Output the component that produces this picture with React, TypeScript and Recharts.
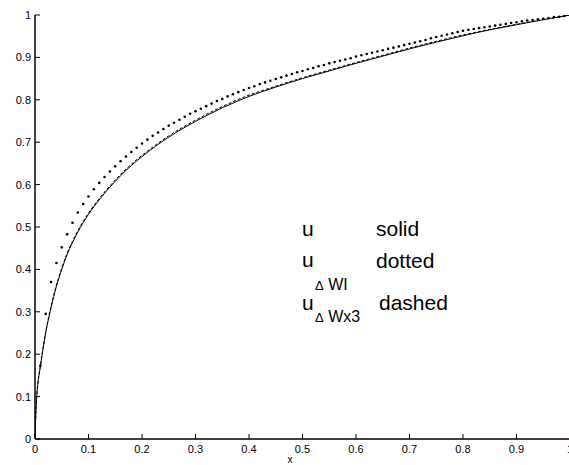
import React from "react";
import { LineChart, Line, XAxis, YAxis, Customized } from "recharts";

// x positions of the two continuous curves
const xCurve = [
  0, 0.001, 0.0025, 0.005, 0.01, 0.02, 0.03, 0.04, 0.05, 0.06, 0.07, 0.08, 0.09, 0.1, 0.12, 0.14,
  0.16, 0.18, 0.2, 0.25, 0.3, 0.35, 0.4, 0.45, 0.5, 0.55, 0.6, 0.65, 0.7, 0.75, 0.8, 0.85, 0.9,
  0.95, 1,
];
// u (solid)
const uSolid = [
  0, 0.04, 0.085, 0.125, 0.17, 0.25, 0.31, 0.36, 0.4, 0.435, 0.463, 0.488, 0.51, 0.53, 0.564,
  0.594, 0.621, 0.645, 0.666, 0.712, 0.749, 0.781, 0.808, 0.83, 0.85, 0.868, 0.886, 0.903, 0.92,
  0.936, 0.951, 0.965, 0.977, 0.989, 1,
];
// u_{Δ Wx3} (dashed), lies almost on top of u
const uDashed = [
  0, 0.041, 0.087, 0.128, 0.173, 0.253, 0.313, 0.363, 0.403, 0.438, 0.466, 0.491, 0.513, 0.533,
  0.567, 0.597, 0.624, 0.648, 0.669, 0.715, 0.752, 0.784, 0.811, 0.832, 0.852, 0.87, 0.888, 0.905,
  0.922, 0.938, 0.953, 0.966, 0.978, 0.989, 1,
];
// u_{Δ WI} (dotted), one marker every 0.01
const xDots = Array.from({ length: 101 }, (_, i) => i / 100);
const uDotted = [
  0, 0.173, 0.295, 0.37, 0.415, 0.452, 0.483, 0.51, 0.534, 0.554,
  0.572, 0.589, 0.604, 0.618, 0.631, 0.643, 0.655, 0.666, 0.677, 0.687,
  0.697, 0.706, 0.715, 0.723, 0.731, 0.739, 0.746, 0.753, 0.76, 0.767,
  0.773, 0.779, 0.785, 0.791, 0.797, 0.802, 0.808, 0.813, 0.818, 0.823,
  0.828, 0.832, 0.837, 0.841, 0.845, 0.849, 0.853, 0.857, 0.861, 0.865,
  0.868, 0.872, 0.875, 0.879, 0.882, 0.886, 0.889, 0.892, 0.895, 0.898,
  0.902, 0.905, 0.908, 0.911, 0.914, 0.917, 0.92, 0.923, 0.926, 0.929,
  0.932, 0.935, 0.938, 0.941, 0.945, 0.948, 0.951, 0.954, 0.957, 0.96,
  0.963, 0.965, 0.967, 0.969, 0.971, 0.973, 0.975, 0.977, 0.979, 0.981,
  0.983, 0.985, 0.987, 0.988, 0.99, 0.991, 0.993, 0.995, 0.996, 0.998,
  1,
];

const xTicks = [0, 0.1, 0.2, 0.3, 0.4, 0.5, 0.6, 0.7, 0.8, 0.9, 1];
const yTicks = [0, 0.1, 0.2, 0.3, 0.4, 0.5, 0.6, 0.7, 0.8, 0.9, 1];

const solidData = xCurve.map((x, i) => ({ x, y: uSolid[i] }));
const dashedData = xCurve.map((x, i) => ({ x, y: uDashed[i] }));
const dottedData = xDots.map((x, i) => ({ x, y: uDotted[i] }));

const FONT = "'Liberation Sans', Arial, Helvetica, sans-serif";
const TICK_LEN = 5;

const fmt = (v: number) => String(Math.round(v * 10) / 10);

function BottomTick(props: any) {
  const { x, y, payload } = props;
  return (
    <g>
      <line x1={x} y1={y} x2={x} y2={y - TICK_LEN} stroke="#000" strokeWidth={1} />
      <text x={x} y={y + 14} textAnchor="middle" fontSize={11} fontFamily={FONT} fill="#000">
        {fmt(payload.value)}
      </text>
    </g>
  );
}

function TopTick(props: any) {
  const { x, y } = props;
  return <line x1={x} y1={y} x2={x} y2={y + TICK_LEN} stroke="#000" strokeWidth={1} />;
}

function LeftTick(props: any) {
  const { x, y, payload } = props;
  return (
    <g>
      <line x1={x} y1={y} x2={x + TICK_LEN} y2={y} stroke="#000" strokeWidth={1} />
      <text x={x - 4} y={y + 4} textAnchor="end" fontSize={11} fontFamily={FONT} fill="#000">
        {fmt(payload.value)}
      </text>
    </g>
  );
}

function RightTick(props: any) {
  const { x, y } = props;
  return <line x1={x} y1={y} x2={x - TICK_LEN} y2={y} stroke="#000" strokeWidth={1} />;
}

function Annotations() {
  return (
    <g fontFamily={FONT} fill="#000">
      <text x={302} y={236} fontSize={21}>u</text>
      <text x={376} y={236} fontSize={21}>solid</text>

      <text x={302} y={267} fontSize={21}>u</text>
      <text x={315} y={290} fontSize={16}>
        <tspan fontSize={13}>Δ</tspan> WI
      </text>
      <text x={376} y={268} fontSize={21}>dotted</text>

      <text x={302} y={310} fontSize={21}>u</text>
      <text x={315} y={322} fontSize={16}>
        <tspan fontSize={13}>Δ</tspan> Wx3
      </text>
      <text x={379} y={310} fontSize={21}>dashed</text>

      <text x={290} y={463} fontSize={10} textAnchor="middle">x</text>
    </g>
  );
}

export default function App() {
  return (
    <div
      style={{
        position: "absolute",
        left: 0,
        top: 0,
        width: 569,
        height: 465,
        overflow: "hidden",
        background: "#fff",
      }}
    >
      <LineChart width={580} height={465} margin={{ top: 15, right: 10, bottom: 0, left: 0 }}>
        <XAxis
          xAxisId="b"
          dataKey="x"
          type="number"
          domain={[0, 1]}
          ticks={xTicks}
          interval={0}
          height={26}
          tickSize={0}
          tickMargin={0}
          tick={<BottomTick />}
          axisLine={{ stroke: "#000", strokeWidth: 1.5 }}
          allowDataOverflow
        />
        <XAxis
          xAxisId="t"
          orientation="top"
          dataKey="x"
          type="number"
          domain={[0, 1]}
          ticks={xTicks}
          interval={0}
          height={0}
          tickSize={0}
          tickMargin={0}
          tick={<TopTick />}
          axisLine={{ stroke: "#000", strokeWidth: 1.5 }}
        />
        <YAxis
          yAxisId="l"
          type="number"
          domain={[0, 1]}
          ticks={yTicks}
          interval={0}
          width={35}
          tickSize={0}
          tickMargin={0}
          tick={<LeftTick />}
          axisLine={{ stroke: "#000", strokeWidth: 1.5 }}
          allowDataOverflow
        />
        <YAxis
          yAxisId="r"
          orientation="right"
          type="number"
          domain={[0, 1]}
          ticks={yTicks}
          interval={0}
          width={0}
          tickSize={0}
          tickMargin={0}
          tick={<RightTick />}
          axisLine={{ stroke: "#000", strokeWidth: 1.5 }}
        />
        <Line
          xAxisId="b"
          yAxisId="l"
          data={solidData}
          dataKey="y"
          type="monotone"
          stroke="#000"
          strokeWidth={1}
          dot={false}
          isAnimationActive={false}
        />
        <Line
          xAxisId="b"
          yAxisId="l"
          data={dashedData}
          dataKey="y"
          type="monotone"
          stroke="#000"
          strokeWidth={1}
          strokeDasharray="3 2"
          dot={false}
          isAnimationActive={false}
        />
        <Line
          xAxisId="b"
          yAxisId="l"
          data={dottedData}
          dataKey="y"
          stroke="none"
          dot={{ r: 1.3, fill: "#000", stroke: "none" }}
          isAnimationActive={false}
        />
        <Customized component={Annotations} />
      </LineChart>
    </div>
  );
}
